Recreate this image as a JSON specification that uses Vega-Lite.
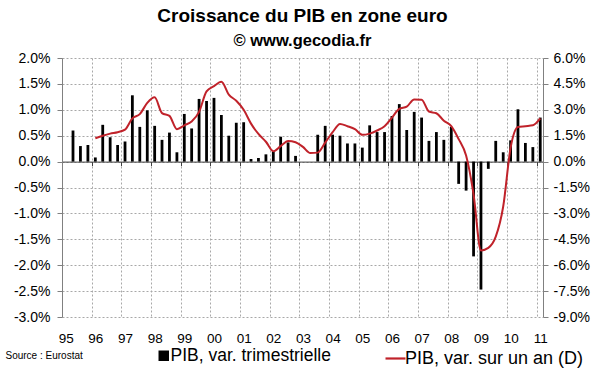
{
  "$schema": "https://vega.github.io/schema/vega-lite/v6.json",
  "width": 481,
  "height": 259,
  "autosize": {"type": "none"},
  "padding": {"left": 62, "top": 58, "right": 57, "bottom": 55},
  "background": "white",
  "config": {
    "view": {"stroke": null},
    "font": "Liberation Sans",
    "axis": {"labelFont": "Liberation Sans", "labelColor": "#000", "labelFontSize": 13.5}
  },
  "title": {
    "text": "Croissance du PIB en zone euro",
    "subtitle": "© www.gecodia.fr",
    "font": "Liberation Sans",
    "subtitleFont": "Liberation Sans",
    "fontSize": 19,
    "subtitleFontSize": 16.5,
    "fontWeight": "bold",
    "subtitleFontWeight": "bold",
    "color": "#000",
    "subtitleColor": "#000",
    "anchor": "middle",
    "offset": 2,
    "subtitlePadding": 7
  },
  "data": {
    "values": [
      {"date": "1995-04-01", "pib_t": 0.60, "pib_a": null},
      {"date": "1995-07-01", "pib_t": 0.30, "pib_a": null},
      {"date": "1995-10-01", "pib_t": 0.32, "pib_a": null},
      {"date": "1996-01-01", "pib_t": 0.08, "pib_a": 1.35},
      {"date": "1996-04-01", "pib_t": 0.71, "pib_a": 1.50},
      {"date": "1996-07-01", "pib_t": 0.47, "pib_a": 1.62},
      {"date": "1996-10-01", "pib_t": 0.32, "pib_a": 1.70},
      {"date": "1997-01-01", "pib_t": 0.39, "pib_a": 1.85},
      {"date": "1997-04-01", "pib_t": 1.28, "pib_a": 2.50},
      {"date": "1997-07-01", "pib_t": 0.67, "pib_a": 2.75},
      {"date": "1997-10-01", "pib_t": 0.99, "pib_a": 3.40},
      {"date": "1998-01-01", "pib_t": 0.69, "pib_a": 3.72},
      {"date": "1998-04-01", "pib_t": 0.42, "pib_a": 2.81},
      {"date": "1998-07-01", "pib_t": 0.56, "pib_a": 2.65},
      {"date": "1998-10-01", "pib_t": 0.18, "pib_a": 1.88},
      {"date": "1999-01-01", "pib_t": 0.92, "pib_a": 2.10},
      {"date": "1999-04-01", "pib_t": 0.64, "pib_a": 2.32},
      {"date": "1999-07-01", "pib_t": 1.21, "pib_a": 2.88},
      {"date": "1999-10-01", "pib_t": 1.17, "pib_a": 4.07},
      {"date": "2000-01-01", "pib_t": 1.23, "pib_a": 4.37},
      {"date": "2000-04-01", "pib_t": 0.90, "pib_a": 4.62},
      {"date": "2000-07-01", "pib_t": 0.50, "pib_a": 3.88},
      {"date": "2000-10-01", "pib_t": 0.75, "pib_a": 3.52},
      {"date": "2001-01-01", "pib_t": 0.76, "pib_a": 3.00},
      {"date": "2001-04-01", "pib_t": 0.05, "pib_a": 2.20},
      {"date": "2001-07-01", "pib_t": 0.07, "pib_a": 1.60},
      {"date": "2001-10-01", "pib_t": 0.14, "pib_a": 1.15},
      {"date": "2002-01-01", "pib_t": 0.20, "pib_a": 0.60},
      {"date": "2002-04-01", "pib_t": 0.48, "pib_a": 0.90},
      {"date": "2002-07-01", "pib_t": 0.37, "pib_a": 1.20},
      {"date": "2002-10-01", "pib_t": 0.11, "pib_a": 1.12},
      {"date": "2003-01-01", "pib_t": 0.00, "pib_a": 0.85},
      {"date": "2003-04-01", "pib_t": 0.00, "pib_a": 0.50},
      {"date": "2003-07-01", "pib_t": 0.52, "pib_a": 0.52},
      {"date": "2003-10-01", "pib_t": 0.69, "pib_a": 1.10},
      {"date": "2004-01-01", "pib_t": 0.52, "pib_a": 1.70},
      {"date": "2004-04-01", "pib_t": 0.50, "pib_a": 2.18},
      {"date": "2004-07-01", "pib_t": 0.35, "pib_a": 2.05},
      {"date": "2004-10-01", "pib_t": 0.35, "pib_a": 1.88},
      {"date": "2005-01-01", "pib_t": 0.27, "pib_a": 1.55},
      {"date": "2005-04-01", "pib_t": 0.70, "pib_a": 1.62},
      {"date": "2005-07-01", "pib_t": 0.57, "pib_a": 1.80},
      {"date": "2005-10-01", "pib_t": 0.57, "pib_a": 2.05},
      {"date": "2006-01-01", "pib_t": 0.88, "pib_a": 2.55},
      {"date": "2006-04-01", "pib_t": 1.11, "pib_a": 3.05},
      {"date": "2006-07-01", "pib_t": 0.61, "pib_a": 3.18},
      {"date": "2006-10-01", "pib_t": 0.96, "pib_a": 3.60},
      {"date": "2007-01-01", "pib_t": 0.85, "pib_a": 3.58},
      {"date": "2007-04-01", "pib_t": 0.40, "pib_a": 2.90},
      {"date": "2007-07-01", "pib_t": 0.57, "pib_a": 2.80},
      {"date": "2007-10-01", "pib_t": 0.42, "pib_a": 2.37},
      {"date": "2008-01-01", "pib_t": 0.67, "pib_a": 2.05},
      {"date": "2008-04-01", "pib_t": -0.43, "pib_a": 1.30},
      {"date": "2008-07-01", "pib_t": -0.56, "pib_a": 0.35},
      {"date": "2008-10-01", "pib_t": -1.83, "pib_a": -1.90},
      {"date": "2009-01-01", "pib_t": -2.47, "pib_a": -5.15},
      {"date": "2009-04-01", "pib_t": -0.14, "pib_a": -5.00},
      {"date": "2009-07-01", "pib_t": 0.40, "pib_a": -4.35},
      {"date": "2009-10-01", "pib_t": 0.18, "pib_a": -2.60},
      {"date": "2010-01-01", "pib_t": 0.41, "pib_a": 0.80},
      {"date": "2010-04-01", "pib_t": 1.01, "pib_a": 2.00},
      {"date": "2010-07-01", "pib_t": 0.36, "pib_a": 2.05},
      {"date": "2010-10-01", "pib_t": 0.28, "pib_a": 2.10},
      {"date": "2011-01-01", "pib_t": 0.85, "pib_a": 2.50}
    ]
  },
  "layer": [
    {
      "mark": {"type": "bar", "width": 2.8},
      "encoding": {
        "x": {
          "field": "date",
          "type": "temporal",
          "timeUnit": "utcyearquarter",
          "bandPosition": 0.5,
          "scale": {
            "type": "utc",
            "domain": [
              {"year": 1995, "month": 1, "date": 1, "utc": true},
              {"year": 2011, "month": 3, "date": 21, "utc": true}
            ]
          },
          "axis": {
            "orient": "bottom",
            "offset": -155.4,
            "labels": false,
            "grid": false,
            "ticks": true,
            "tickSize": 4,
            "tickColor": "#404040",
            "domain": true,
            "domainColor": "#404040",
            "title": null,
            "values": [
              {"year": 1995, "utc": true}, {"year": 1996, "utc": true}, {"year": 1997, "utc": true},
              {"year": 1998, "utc": true}, {"year": 1999, "utc": true}, {"year": 2000, "utc": true},
              {"year": 2001, "utc": true}, {"year": 2002, "utc": true}, {"year": 2003, "utc": true},
              {"year": 2004, "utc": true}, {"year": 2005, "utc": true}, {"year": 2006, "utc": true},
              {"year": 2007, "utc": true}, {"year": 2008, "utc": true}, {"year": 2009, "utc": true},
              {"year": 2010, "utc": true}, {"year": 2011, "utc": true}
            ]
          }
        },
        "y": {
          "field": "pib_t",
          "type": "quantitative",
          "scale": {"domain": [-3, 2]},
          "axis": {
            "values": [-3, -2.5, -2, -1.5, -1, -0.5, 0, 0.5, 1, 1.5, 2],
            "grid": true,
            "gridDash": [2, 2],
            "gridColor": "#a8a8a8",
            "domainColor": "#808080",
            "tickColor": "#808080",
            "tickSize": 5,
            "labelPadding": 7,
            "labelFontSize": 14,
            "labelExpr": "(datum.value < 0 ? '-' : '') + format(abs(datum.value), '.1f') + '%'",
            "title": null
          }
        },
        "fill": {
          "datum": "PIB, var. trimestrielle",
          "scale": {"range": ["#000000"]},
          "legend": {
            "orient": "none",
            "legendX": 93,
            "legendY": 289,
            "title": null,
            "padding": 0,
            "symbolType": "square",
            "symbolSize": 110,
            "symbolStrokeWidth": 0,
            "labelFont": "Liberation Sans",
            "labelFontSize": 17.5,
            "labelColor": "#000",
            "labelOffset": -2,
            "labelLimit": 400
          }
        }
      }
    },
    {
      "mark": {"type": "line", "strokeWidth": 2, "interpolate": "monotone"},
      "encoding": {
        "x": {
          "field": "date",
          "type": "temporal",
          "timeUnit": "utcyearquarter",
          "bandPosition": 0.5,
          "axis": {
            "orient": "bottom",
            "format": "%y",
            "values": [
              {"year": 1995, "utc": true}, {"year": 1996, "utc": true}, {"year": 1997, "utc": true},
              {"year": 1998, "utc": true}, {"year": 1999, "utc": true}, {"year": 2000, "utc": true},
              {"year": 2001, "utc": true}, {"year": 2002, "utc": true}, {"year": 2003, "utc": true},
              {"year": 2004, "utc": true}, {"year": 2005, "utc": true}, {"year": 2006, "utc": true},
              {"year": 2007, "utc": true}, {"year": 2008, "utc": true}, {"year": 2009, "utc": true},
              {"year": 2010, "utc": true}, {"year": 2011, "utc": true}
            ],
            "grid": true,
            "gridDash": [2, 2],
            "gridColor": "#a8a8a8",
            "ticks": false,
            "tickSize": 0,
            "domain": false,
            "labelPadding": 14,
            "labelOffset": 3.7,
            "labelFlush": false,
            "labelOverlap": false,
            "title": "Source : Eurostat",
            "titleFont": "Liberation Sans",
            "titleFontSize": 10,
            "titleFontWeight": "normal",
            "titleColor": "#000",
            "titleAlign": "left",
            "titleBaseline": "middle",
            "titleX": -57,
            "titleY": 38
          }
        },
        "y": {
          "field": "pib_a",
          "type": "quantitative",
          "scale": {"domain": [-9, 6]},
          "axis": {
            "orient": "right",
            "values": [-9, -7.5, -6, -4.5, -3, -1.5, 0, 1.5, 3, 4.5, 6],
            "grid": false,
            "domainColor": "#808080",
            "tickColor": "#808080",
            "tickSize": 5,
            "labelPadding": 5,
            "labelFontSize": 14,
            "labelExpr": "(datum.value < 0 ? '-' : '') + format(abs(datum.value), '.1f') + '%'",
            "title": null
          }
        },
        "stroke": {
          "datum": "PIB, var. sur un an (D)",
          "scale": {"range": ["#c0222a"]},
          "legend": {
            "orient": "none",
            "legendX": 322,
            "legendY": 289,
            "title": null,
            "padding": 0,
            "symbolType": "stroke",
            "symbolSize": 400,
            "symbolStrokeWidth": 2.2,
            "labelFont": "Liberation Sans",
            "labelFontSize": 18,
            "labelColor": "#000",
            "labelOffset": -2,
            "labelLimit": 400
          }
        }
      }
    }
  ],
  "resolve": {"scale": {"y": "independent"}, "axis": {"x": "independent"}}
}
